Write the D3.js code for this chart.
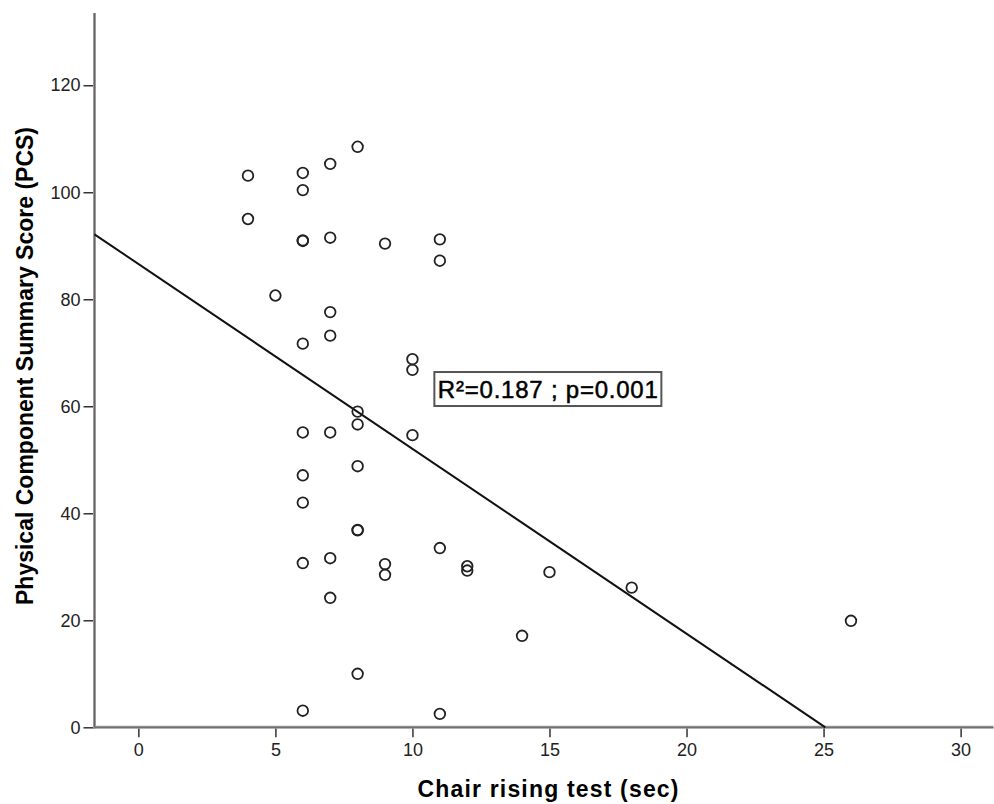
<!DOCTYPE html>
<html>
<head>
<meta charset="utf-8">
<script src="https://d3js.org/d3.v7.min.js"></script>
<title>Chair rising test vs PCS</title>
<style>
	body { margin:0; background:#fff; }
	svg text { font-family: "Liberation Sans", Arial, sans-serif; }
	.tick line { stroke:#333; stroke-width:1.5; }
</style>
</head>
<body>
<div id="chart"></div>
<script>
// chair rising time (sec) and PCS score
var chairTime = [4, 4, 5,
	6, 6, 6, 6, 6, 6, 6, 6, 6, 6,
	7, 7, 7, 7, 7, 7, 7,
	8, 8, 8, 8, 8, 8, 8,
	9, 9, 9,
	10, 10, 10,
	11, 11, 11, 11,
	12, 12,
	14, 15, 18, 26];
var pcsScore = [103.1, 95.0, 80.7,
	103.6, 100.4, 91.0, 90.9, 71.7, 55.1, 47.1, 42.0, 30.7, 3.1,
	105.3, 91.5, 77.6, 73.2, 55.1, 31.6, 24.2,
	108.5, 59.0, 56.6, 48.8, 36.9, 36.8, 10.0,
	90.4, 30.5, 28.5,
	68.8, 66.8, 54.6,
	91.2, 87.2, 33.5, 2.5,
	30.1, 29.3,
	17.1, 29.0, 26.1, 19.9];
var xTicks = [0, 5, 10, 15, 20, 25, 30];
var yTicks = [0, 20, 40, 60, 80, 100, 120];

var fitIntercept = 86.6;
var fitSlope = -3.455;
var fitLabel = "R\u00B2=0.187 ; p=0.001";

var width = 994, height = 804;

var svg = d3.select("#chart").append("svg")
	.attr("width", width)
	.attr("height", height);

var x = d3.scaleLinear().domain([-1.6, 31.2]).range([94.5, 993.5]);
var y = d3.scaleLinear().domain([0, 133.5]).range([727.3, 13]);

// axes ticks
svg.append("g")
	.attr("transform", "translate(" + x(-1.6) + ",0)")
	.call(d3.axisLeft(y).tickValues(yTicks).tickSize(11).tickPadding(3))
	.call(function(g) {
		g.select(".domain").remove();
		g.selectAll("text").style("font-size", "18px").style("fill", "#222");
	});

svg.append("g")
	.attr("transform", "translate(0," + y(0) + ")")
	.call(d3.axisBottom(x).tickValues(xTicks).tickSize(10).tickPadding(6))
	.call(function(g) {
		g.select(".domain").remove();
		g.selectAll("text").style("font-size", "18px").style("fill", "#222");
	});

// axis lines (grey, doubled look)
svg.append("line")
	.attr("x1", x(-1.6)).attr("x2", x(-1.6))
	.attr("y1", y(133.5)).attr("y2", y(0) + 1)
	.attr("stroke", "#999").attr("stroke-width", 3);
svg.append("line")
	.attr("x1", x(-1.6) - 1).attr("x2", x(31.2))
	.attr("y1", y(0)).attr("y2", y(0))
	.attr("stroke", "#999").attr("stroke-width", 3);
svg.append("line")
	.attr("x1", x(-1.6)).attr("x2", x(-1.6))
	.attr("y1", y(133.5)).attr("y2", y(0))
	.attr("stroke", "#666").attr("stroke-width", 1);
svg.append("line")
	.attr("x1", x(-1.6)).attr("x2", x(31.2))
	.attr("y1", y(0)).attr("y2", y(0))
	.attr("stroke", "#666").attr("stroke-width", 1);

// regression line, clipped at y = 0
var xEnd = -fitIntercept / fitSlope;
svg.append("line")
	.attr("x1", x(-1.6)).attr("y1", y(fitIntercept + fitSlope * -1.6))
	.attr("x2", x(xEnd)).attr("y2", y(0))
	.attr("stroke", "#111").attr("stroke-width", 2);

// points
var pts = chairTime.map(function(d, i) { return {t: d, s: pcsScore[i]}; });
svg.selectAll("circle.pt").data(pts).enter()
	.append("circle")
	.attr("class", "pt")
	.attr("cx", function(d) { return x(d.t); })
	.attr("cy", function(d) { return y(d.s); })
	.attr("r", 5.3)
	.attr("fill", "none")
	.attr("stroke", "#222")
	.attr("stroke-width", 1.8);

// annotation box
var lbl = svg.append("g").attr("transform", "translate(" + x(10.8) + "," + y(66.4) + ")");
lbl.append("rect")
	.attr("x", 0).attr("y", 0)
	.attr("width", 227).attr("height", 34)
	.attr("fill", "#fff")
	.attr("stroke", "#555").attr("stroke-width", 2);
lbl.append("text")
	.attr("x", 113.5).attr("y", 26)
	.attr("text-anchor", "middle")
	.attr("font-size", "24px")
	.attr("textLength", 220)
	.attr("fill", "#000")
	.attr("stroke", "#000").attr("stroke-width", 0.5)
	.text(fitLabel);

// axis titles
svg.append("text")
	.attr("x", 548).attr("y", 797)
	.attr("text-anchor", "middle")
	.attr("font-size", "23px")
	.attr("font-weight", "bold")
	.attr("textLength", 261)
	.text("Chair rising test (sec)");

svg.append("text")
	.attr("transform", "translate(33,366) rotate(-90)")
	.attr("text-anchor", "middle")
	.attr("font-size", "23px")
	.attr("font-weight", "bold")
	.text("Physical Component Summary Score (PCS)");
</script>
</body>
</html>
